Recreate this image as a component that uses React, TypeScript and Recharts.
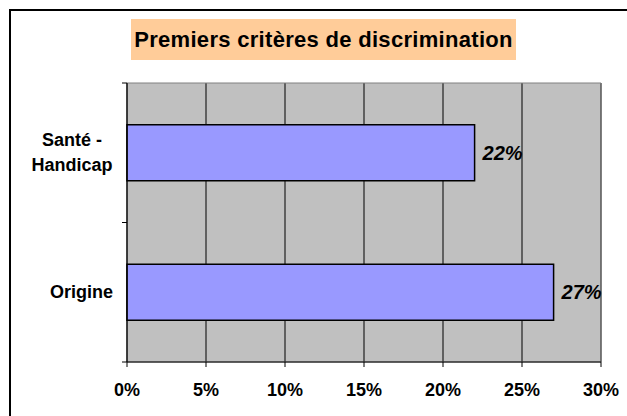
import React from 'react';
import {
  BarChart,
  Bar,
  XAxis,
  YAxis,
  CartesianGrid,
  LabelList,
  ReferenceArea,
} from 'recharts';

// valeurs
const categories = ['Santé - Handicap', 'Origine'];
const shares = [0.22, 0.27];
const xTicks = [0, 0.05, 0.1, 0.15, 0.2, 0.25, 0.3];

const data = categories.map((name, i) => ({ name, value: shares[i] }));

const FONT = '"Liberation Sans", Arial, sans-serif';
const pct = (v: number) => `${Math.round(v * 100)}%`;

// libellé de catégorie + petits traits aux limites de chaque bande (style Excel)
function CategoryTick(props: any) {
  const { x, y, payload, index, visibleTicksCount, height } = props;
  const band = Number(height) > 0 && visibleTicksCount ? Number(height) / visibleTicksCount : 139.5;
  const label: string = payload.value;
  const parts = label.includes(' - ') ? [label.split(' - ')[0] + ' -', label.split(' - ')[1]] : [label];
  const edge = (yy: number, k: string) => <line key={k} x1={x - 5} x2={x} y1={yy} y2={yy} stroke="#000" />;
  return (
    <g>
      {edge(y - band / 2, 'a')}
      {index === visibleTicksCount - 1 && edge(y + band / 2, 'b')}
      {parts.length === 1 ? (
        <text x={x - 14} y={y} dy={6} textAnchor="end" fontFamily={FONT} fontWeight="bold" fontSize={18} fill="#000">
          {label}
        </text>
      ) : (
        <text x={x - 55} y={y} textAnchor="middle" fontFamily={FONT} fontWeight="bold" fontSize={18} fill="#000">
          <tspan x={x - 55} dy={-7}>{parts[0]}</tspan>
          <tspan x={x - 55} dy={25}>{parts[1]}</tspan>
        </text>
      )}
    </g>
  );
}

export default function App() {
  return (
    <div style={{ position: 'fixed', left: 0, top: 0, width: 627, height: 416, overflow: 'hidden', background: '#fff' }}>
      <div
        style={{
          position: 'absolute',
          left: 9,
          top: 9,
          width: 618,
          height: 407,
          boxSizing: 'border-box',
          borderLeft: '2px solid #000',
          borderTop: '2px solid #000',
        }}
      />
      <div
        style={{
          position: 'absolute',
          left: 131,
          top: 19,
          width: 385,
          height: 41,
          background: '#FFCC99',
          fontFamily: FONT,
          fontWeight: 'bold',
          fontSize: 22,
          letterSpacing: '0.3px',
          lineHeight: '41px',
          textAlign: 'center',
          color: '#000',
        }}
      >
        Premiers critères de discrimination
      </div>
      <div style={{ position: 'absolute', left: 0, top: 0 }}>
        <BarChart
          width={627}
          height={416}
          data={data}
          layout="vertical"
          margin={{ top: 83, right: 26, bottom: 0, left: 0 }}
          barCategoryGap="30%"
        >
          <CartesianGrid horizontal={false} stroke="#000" fill="#C0C0C0" fillOpacity={1} />
          <ReferenceArea x1={0} x2={0.3} fill="none" stroke="#808080" strokeWidth={1} ifOverflow="visible" />
          <XAxis
            type="number"
            domain={[0, 0.3]}
            ticks={xTicks}
            tickFormatter={pct}
            height={54}
            stroke="#000"
            tickSize={5}
            tickMargin={16}
            tick={{ fill: '#000', fontFamily: FONT, fontWeight: 'bold', fontSize: 18 }}
            interval={0}
          />
          <YAxis
            type="category"
            dataKey="name"
            width={127}
            stroke="#000"
            tickLine={false}
            tickSize={0}
            tickMargin={0}
            tick={<CategoryTick />}
            interval={0}
          />
          <Bar dataKey="value" fill="#9999FF" stroke="#000" strokeWidth={1.5} isAnimationActive={false}>
            <LabelList
              dataKey="value"
              position="right"
              offset={8}
              formatter={(v: any) => pct(Number(v))}
              fill="#000"
              fontFamily={FONT}
              fontWeight="bold"
              fontStyle="italic"
              fontSize={20}
            />
          </Bar>
        </BarChart>
      </div>
    </div>
  );
}
